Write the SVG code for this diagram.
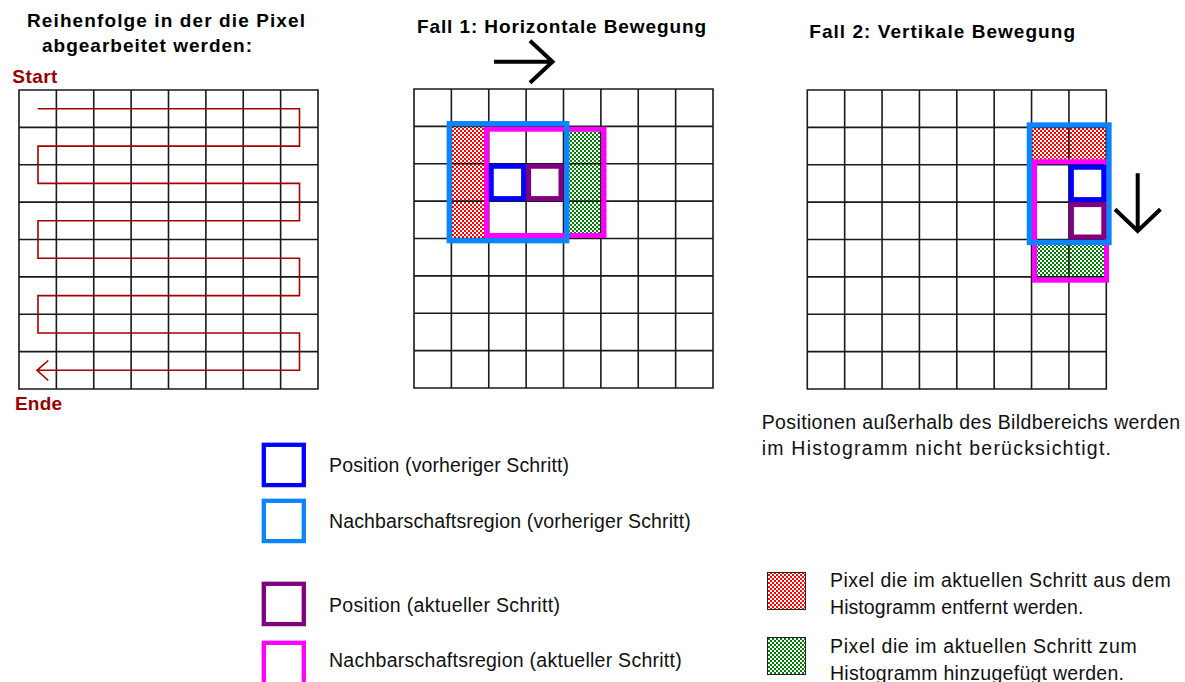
<svg xmlns="http://www.w3.org/2000/svg" width="1185" height="682" viewBox="0 0 1185 682">
<style>
text{font-family:"Liberation Sans",Arial,sans-serif;fill:#000}
.title{font-weight:bold;font-size:19px}
.red{font-weight:bold;font-size:19px;fill:#990000}
.lbl{font-size:19.5px;fill:#111}
.grid{fill:none;stroke:#1a1a1a;stroke-width:1.6}
.nb-prev{fill:none;stroke:#0a84ff;stroke-width:5.3}
.nb-cur{fill:none;stroke:#ff00ff;stroke-width:5}
.pos-prev{fill:none;stroke:#0000ff;stroke-width:5}
.pos-cur{fill:none;stroke:#800080;stroke-width:5}
.mv{fill:none;stroke:#000;stroke-width:4;stroke-linecap:butt;stroke-linejoin:miter}
.serp{fill:none;stroke:#a30000;stroke-width:1.6}
.lg{fill:none;stroke-width:4.3}
.hatch{shape-rendering:crispEdges}
</style>
<defs>
<pattern id="hatchRed" width="4" height="4" patternUnits="userSpaceOnUse">
<rect width="4" height="4" fill="#ff0000" shape-rendering="crispEdges"/>
<rect x="0" y="0" width="2" height="2" fill="#ffffff" shape-rendering="crispEdges"/>
<rect x="2" y="2" width="2" height="2" fill="#ffffff" shape-rendering="crispEdges"/>
</pattern>
<pattern id="hatchGreen" width="4" height="4" patternUnits="userSpaceOnUse">
<rect width="4" height="4" fill="#008000" shape-rendering="crispEdges"/>
<rect x="0" y="0" width="2" height="2" fill="#ffffff" shape-rendering="crispEdges"/>
<rect x="2" y="2" width="2" height="2" fill="#ffffff" shape-rendering="crispEdges"/>
</pattern>
<path id="gridPath" class="grid" d="M0 0H299V299H0Z M37.375 0V299 M74.75 0V299 M112.125 0V299 M149.5 0V299 M186.875 0V299 M224.25 0V299 M261.625 0V299 M0 37.375H299 M0 74.75H299 M0 112.125H299 M0 149.5H299 M0 186.875H299 M0 224.25H299 M0 261.625H299"/>
</defs>
<rect width="1185" height="682" fill="#ffffff"/>

<g id="panel-order">
<text class="title" x="27" y="27" textLength="278" lengthAdjust="spacing">Reihenfolge in der die Pixel</text>
<text class="title" x="42" y="52" textLength="210" lengthAdjust="spacing">abgearbeitet werden:</text>
<text class="red" x="12.3" y="83" textLength="45" lengthAdjust="spacing">Start</text>
<use href="#gridPath" x="19" y="90"/>
<text class="red" x="15" y="409.5" textLength="47" lengthAdjust="spacing">Ende</text>
</g>

<g id="panel-horizontal">
<text class="title" x="417" y="33.3" textLength="289" lengthAdjust="spacing">Fall 1: Horizontale Bewegung</text>
<rect class="hatch" x="451" y="126" width="38" height="113" fill="url(#hatchRed)"/>
<rect class="hatch" x="563" y="126" width="38" height="113" fill="url(#hatchGreen)"/>
<use href="#gridPath" x="414" y="89"/>
<rect class="nb-cur" x="486.5" y="129.2" width="117.5" height="106.3"/>
<rect class="nb-prev" x="449.3" y="123.7" width="117.4" height="117"/>
<rect class="pos-prev" x="491.25" y="166.25" width="32.35" height="32.35"/>
<rect class="pos-cur" x="528.6" y="166.25" width="32.4" height="32.35"/>
</g>

<g id="panel-vertical">
<text class="title" x="809.3" y="38.3" textLength="265.7" lengthAdjust="spacing">Fall 2: Vertikale Bewegung</text>
<rect class="hatch" x="1031" y="127" width="76" height="38" fill="url(#hatchRed)"/>
<rect class="hatch" x="1031" y="239" width="76" height="38" fill="url(#hatchGreen)"/>
<use href="#gridPath" x="807.3" y="90"/>
<rect class="nb-cur" x="1034.5" y="161.8" width="72" height="118.4"/>
<rect class="nb-prev" x="1029.4" y="125" width="79.6" height="117.4"/>
<rect class="pos-prev" x="1071.4" y="167.25" width="32.4" height="32.35"/>
<rect class="pos-cur" x="1071.4" y="204.6" width="32.4" height="32.4"/>
</g>

<g id="connectors">
<path id="scan-path" class="serp" d="M37.7 108.7H299.5V146.1H38V183.4H299.5V220.8H38V258.2H299.5V295.6H38V333H299.5V370.3H37.5 M48.3 360.5L37 370.3L48.3 380.5"/>
<path id="arrow-right" class="mv" d="M494 61.7H552 M530 40.7L552.5 61.7L530 82.7"/>
<path id="arrow-down" class="mv" d="M1137.7 173.3V229.5 M1115 209.3L1137.7 231L1160.4 209.3"/>
</g>

<g id="note-outside">
<text class="lbl" x="761.7" y="429.3" textLength="418.3" lengthAdjust="spacing">Positionen außerhalb des Bildbereichs werden</text>
<text class="lbl" x="761.7" y="454.8" textLength="349.3" lengthAdjust="spacing">im Histogramm nicht berücksichtigt.</text>
</g>

<g id="legend-pos-prev">
<rect class="lg" stroke="#0000ff" x="263.8" y="444.8" width="40" height="40.3"/>
<text class="lbl" x="329" y="472.3" textLength="240" lengthAdjust="spacing">Position (vorheriger Schritt)</text>
</g>
<g id="legend-nb-prev">
<rect class="lg" stroke="#0a84ff" x="263.8" y="500.8" width="40" height="40.3"/>
<text class="lbl" x="329" y="528.3" textLength="361.7" lengthAdjust="spacing">Nachbarschaftsregion (vorheriger Schritt)</text>
</g>
<g id="legend-pos-cur">
<rect class="lg" stroke="#800080" x="263.8" y="583.8" width="40" height="40.3"/>
<text class="lbl" x="329" y="611.7" textLength="231" lengthAdjust="spacing">Position (aktueller Schritt)</text>
</g>
<g id="legend-nb-cur">
<rect class="lg" stroke="#ff00ff" x="263.8" y="642.8" width="40" height="42"/>
<text class="lbl" x="329" y="667.3" textLength="352.7" lengthAdjust="spacing">Nachbarschaftsregion (aktueller Schritt)</text>
</g>
<g id="legend-removed">
<rect class="hatch" x="767" y="572" width="38" height="37" fill="url(#hatchRed)" stroke="#222" stroke-width="1"/>
<text class="lbl" x="830" y="586.7" textLength="340.7" lengthAdjust="spacing">Pixel die im aktuellen Schritt aus dem</text>
<text class="lbl" x="830" y="613.5" textLength="253.3" lengthAdjust="spacing">Histogramm entfernt werden.</text>
</g>
<g id="legend-added">
<rect class="hatch" x="767" y="637" width="38" height="37" fill="url(#hatchGreen)" stroke="#222" stroke-width="1"/>
<text class="lbl" x="830" y="653.3" textLength="306.7" lengthAdjust="spacing">Pixel die im aktuellen Schritt zum</text>
<text class="lbl" x="830" y="680" textLength="294" lengthAdjust="spacing">Histogramm hinzugefügt werden.</text>
</g>
</svg>
